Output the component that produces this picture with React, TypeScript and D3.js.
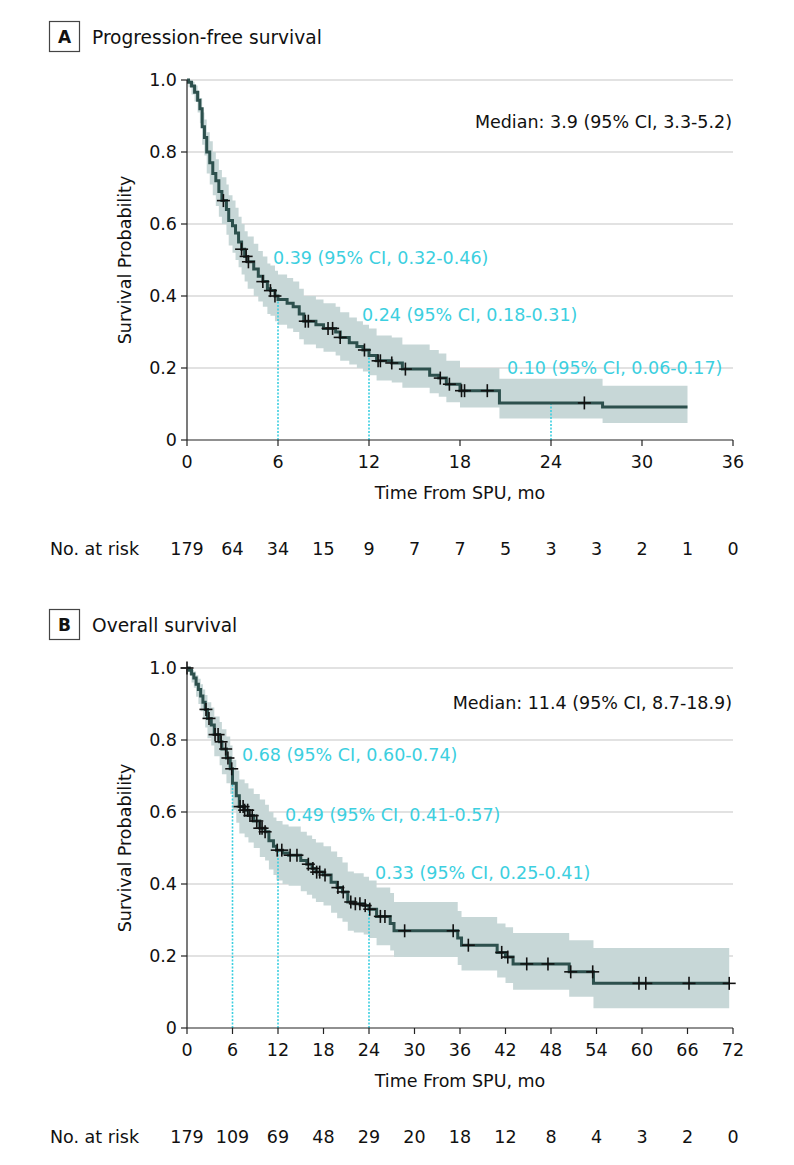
import React from "react";
import * as d3 from "d3";

// ---------- DATA ----------
// Progression-free survival: [time (mo), survival, lower 95% CI, upper 95% CI]
const PFS_STEPS: [number, number, number, number][] = [
  [0, 1.0, 1.0, 1.0],
  [0.1, 0.994, 0.98, 1.0],
  [0.3, 0.983, 0.96, 0.995],
  [0.5, 0.966, 0.94, 0.985],
  [0.7, 0.944, 0.91, 0.97],
  [0.85, 0.92, 0.88, 0.95],
  [1.0, 0.87, 0.82, 0.91],
  [1.15, 0.84, 0.79, 0.89],
  [1.3, 0.8, 0.74, 0.855],
  [1.5, 0.77, 0.71, 0.83],
  [1.7, 0.74, 0.68, 0.8],
  [1.9, 0.72, 0.65, 0.78],
  [2.1, 0.69, 0.62, 0.75],
  [2.3, 0.665, 0.6, 0.73],
  [2.6, 0.64, 0.57, 0.71],
  [2.75, 0.61, 0.54, 0.68],
  [3.0, 0.595, 0.52, 0.665],
  [3.2, 0.575, 0.5, 0.645],
  [3.4, 0.55, 0.48, 0.62],
  [3.6, 0.53, 0.46, 0.6],
  [3.8, 0.51, 0.44, 0.58],
  [4.0, 0.495, 0.42, 0.565],
  [4.4, 0.475, 0.4, 0.545],
  [4.7, 0.455, 0.385, 0.525],
  [5.0, 0.44, 0.37, 0.51],
  [5.3, 0.42, 0.35, 0.49],
  [5.5, 0.415, 0.345, 0.485],
  [5.8, 0.4, 0.33, 0.47],
  [6.0, 0.39, 0.32, 0.46],
  [6.6, 0.38, 0.31, 0.45],
  [7.0, 0.37, 0.3, 0.44],
  [7.4, 0.35, 0.28, 0.42],
  [7.7, 0.33, 0.265, 0.4],
  [8.5, 0.32, 0.255, 0.39],
  [9.0, 0.31, 0.245, 0.38],
  [9.8, 0.3, 0.235, 0.37],
  [10.1, 0.285, 0.22, 0.355],
  [10.7, 0.27, 0.21, 0.34],
  [11.2, 0.26, 0.2, 0.33],
  [11.6, 0.25, 0.19, 0.32],
  [12.0, 0.235, 0.18, 0.31],
  [12.5, 0.22, 0.165, 0.29],
  [13.5, 0.214, 0.16, 0.285],
  [14.2, 0.197, 0.145, 0.265],
  [16.0, 0.18, 0.13, 0.25],
  [16.6, 0.172, 0.12, 0.24],
  [17.1, 0.155, 0.105, 0.22],
  [18.0, 0.137, 0.09, 0.2],
  [20.6, 0.103, 0.06, 0.17],
  [27.4, 0.092, 0.047, 0.151],
];
const PFS_END = 33.0;
const PFS_CENSORED = [2.4, 3.6, 3.9, 4.05, 5.0, 5.5, 5.8, 7.8, 8.0, 9.3, 9.6, 10.1, 11.7, 12.6, 12.75, 13.5, 14.4, 16.7, 17.3, 18.1, 18.3, 19.8, 26.2];
const PFS_X_TICKS = [0, 6, 12, 18, 24, 30, 36];
const PFS_RISK_TIMES = [0, 3, 6, 9, 12, 15, 18, 21, 24, 27, 30, 33, 36];
const PFS_RISK = [179, 64, 34, 15, 9, 7, 7, 5, 3, 3, 2, 1, 0];
const PFS_LANDMARKS = [6, 12, 24];
const PFS_LANDMARK_TEXT = ["0.39 (95% CI, 0.32-0.46)", "0.24 (95% CI, 0.18-0.31)", "0.10 (95% CI, 0.06-0.17)"];
const PFS_MEDIAN = "Median: 3.9 (95% CI, 3.3-5.2)";

// Overall survival: [time (mo), survival, lower 95% CI, upper 95% CI]
const OS_STEPS: [number, number, number, number][] = [
  [0, 1.0, 1.0, 1.0],
  [0.3, 0.994, 0.98, 1.0],
  [0.6, 0.983, 0.96, 0.995],
  [0.9, 0.972, 0.945, 0.99],
  [1.2, 0.955, 0.92, 0.98],
  [1.5, 0.94, 0.9, 0.97],
  [1.8, 0.922, 0.88, 0.955],
  [2.1, 0.905, 0.86, 0.94],
  [2.4, 0.885, 0.835, 0.925],
  [2.7, 0.86, 0.805, 0.905],
  [3.2, 0.842, 0.785, 0.89],
  [3.6, 0.815, 0.755, 0.865],
  [4.3, 0.795, 0.73, 0.85],
  [4.6, 0.775, 0.705, 0.83],
  [5.2, 0.75, 0.68, 0.81],
  [5.7, 0.72, 0.65, 0.785],
  [6.0, 0.68, 0.605, 0.745],
  [6.5, 0.645, 0.57, 0.715],
  [6.9, 0.615, 0.54, 0.69],
  [7.6, 0.605, 0.53, 0.68],
  [8.1, 0.59, 0.515, 0.665],
  [8.8, 0.575, 0.5, 0.65],
  [9.6, 0.555, 0.475, 0.635],
  [10.3, 0.545, 0.465, 0.62],
  [10.8, 0.52, 0.44, 0.6],
  [11.4, 0.505, 0.425, 0.585],
  [11.8, 0.494, 0.41, 0.575],
  [12.6, 0.486, 0.4, 0.565],
  [13.4, 0.48, 0.395, 0.56],
  [15.0, 0.465, 0.38, 0.545],
  [15.8, 0.455, 0.37, 0.535],
  [16.5, 0.443, 0.36, 0.525],
  [17.0, 0.433, 0.35, 0.515],
  [18.0, 0.425, 0.34, 0.505],
  [19.0, 0.405, 0.32, 0.49],
  [19.8, 0.39, 0.305, 0.475],
  [20.5, 0.378, 0.295, 0.46],
  [21.2, 0.35, 0.27, 0.435],
  [22.0, 0.345, 0.265, 0.43],
  [23.3, 0.34, 0.26, 0.42],
  [24.0, 0.33, 0.25, 0.41],
  [25.0, 0.31, 0.23, 0.39],
  [26.8, 0.29, 0.215, 0.375],
  [27.3, 0.27, 0.197, 0.35],
  [35.7, 0.25, 0.175, 0.325],
  [36.2, 0.23, 0.16, 0.308],
  [40.9, 0.21, 0.14, 0.29],
  [42.0, 0.197, 0.125, 0.28],
  [43.0, 0.178, 0.106, 0.264],
  [50.4, 0.156, 0.087, 0.244],
  [53.6, 0.124, 0.055, 0.222],
];
const OS_END = 71.5;
const OS_CENSORED = [0, 2.5, 2.9, 3.7, 4.1, 4.5, 5.1, 5.4, 5.9, 7.0, 7.4, 7.6, 8.0, 8.3, 8.6, 9.2, 9.6, 9.9, 10.3, 11.9, 12.5, 13.6, 14.5, 16.0, 16.6, 17.1, 17.5, 18.2, 19.9, 20.6, 21.6, 22.2, 22.8, 23.5, 24.1, 25.5, 26.1, 28.7, 35.1, 37.1, 41.5, 42.3, 44.8, 47.6, 50.6, 53.5, 59.6, 60.5, 66.2, 71.5];
const OS_X_TICKS = [0, 6, 12, 18, 24, 30, 36, 42, 48, 54, 60, 66, 72];
const OS_RISK_TIMES = [0, 6, 12, 18, 24, 30, 36, 42, 48, 54, 60, 66, 72];
const OS_RISK = [179, 109, 69, 48, 29, 20, 18, 12, 8, 4, 3, 2, 0];
const OS_LANDMARKS = [6, 12, 24];
const OS_LANDMARK_TEXT = ["0.68 (95% CI, 0.60-0.74)", "0.49 (95% CI, 0.41-0.57)", "0.33 (95% CI, 0.25-0.41)"];
const OS_MEDIAN = "Median: 11.4 (95% CI, 8.7-18.9)";

const Y_TICKS = [0, 0.2, 0.4, 0.6, 0.8, 1.0];
const Y_TICK_LABELS = ["0", "0.2", "0.4", "0.6", "0.8", "1.0"];

// ---------- STYLE ----------
const FONT = "DejaVu Sans, Verdana, sans-serif";
const CURVE = "#2d504d";
const BAND = "#c7d7d7";
const CYAN = "#3ccfe0";
const GRID = "#d8d8d8";
const AXIS = "#222";

type PanelProps = {
  top: number;
  letter: string;
  title: string;
  steps: [number, number, number, number][];
  end: number;
  censored: number[];
  xMax: number;
  xTicks: number[];
  riskTimes: number[];
  risk: number[];
  landmarks: number[];
  landmarkText: string[];
  labelPos: [number, number][];
  median: string;
  medianY: number;
};

function valueAt(steps: [number, number, number, number][], t: number) {
  let v = steps[0][1];
  for (const r of steps) if (r[0] <= t + 1e-9) v = r[1];
  return v;
}

function Panel(p: PanelProps) {
  const x = d3.scaleLinear().domain([0, p.xMax]).range([187, 733]);
  const y = d3.scaleLinear().domain([0, 1]).range([p.top + 360, p.top]);
  const ext = [...p.steps, [p.end, ...p.steps[p.steps.length - 1].slice(1)] as [number, number, number, number]];
  const line = d3
    .line<[number, number, number, number]>()
    .x((d) => x(d[0]))
    .y((d) => y(d[1]))
    .curve(d3.curveStepAfter);
  const area = d3
    .area<[number, number, number, number]>()
    .x((d) => x(d[0]))
    .y0((d) => y(d[2]))
    .y1((d) => y(d[3]))
    .curve(d3.curveStepAfter);
  const y0 = y(0);
  const fs = 17.5;
  return (
    <g fontFamily={FONT}>
      {/* header */}
      <rect x={49.5} y={p.top - 58.5} width={30} height={30} fill="none" stroke="#444" strokeWidth={1.2} />
      <text x={64.5} y={p.top - 43.5} textAnchor="middle" dominantBaseline="central" fontSize={17} fontWeight="bold" fill="#111">
        {p.letter}
      </text>
      <text x={92} y={p.top - 43} dominantBaseline="central" fontSize={18.6} fill="#111">
        {p.title}
      </text>

      {/* grid */}
      {Y_TICKS.filter((v) => v > 0).map((v) => (
        <line key={"g" + v} x1={x(0)} x2={x(p.xMax)} y1={y(v)} y2={y(v)} stroke={GRID} strokeWidth={1.5} />
      ))}

      {/* CI band */}
      <path d={area(ext) || ""} fill={BAND} />

      {/* landmark dotted lines */}
      {p.landmarks.map((t) => (
        <line key={"l" + t} x1={x(t)} x2={x(t)} y1={y0} y2={y(valueAt(p.steps, t))} stroke={CYAN} strokeWidth={1.6} strokeDasharray="2,1.5" />
      ))}

      {/* curve */}
      <path d={line(ext) || ""} fill="none" stroke={CURVE} strokeWidth={3} />

      {/* censor marks */}
      {p.censored.map((t, i) => {
        const cx = x(t);
        const cy = y(valueAt(p.steps, t));
        return (
          <g key={"c" + i} stroke="#111" strokeWidth={1.6}>
            <line x1={cx - 6.5} x2={cx + 6.5} y1={cy} y2={cy} />
            <line x1={cx} x2={cx} y1={cy - 6.5} y2={cy + 6.5} />
          </g>
        );
      })}

      {/* axes */}
      <line x1={x(0)} x2={x(0)} y1={y(0)} y2={y(1)} stroke={AXIS} strokeWidth={1.2} />
      <line x1={x(0)} x2={x(p.xMax)} y1={y0} y2={y0} stroke={AXIS} strokeWidth={1.2} />
      {Y_TICKS.map((v, i) => (
        <g key={"yt" + v}>
          <line x1={x(0) - 6} x2={x(0)} y1={y(v)} y2={y(v)} stroke={AXIS} strokeWidth={1.2} />
          <text x={177} y={y(v)} textAnchor="end" dominantBaseline="central" fontSize={fs} fill="#111">
            {Y_TICK_LABELS[i]}
          </text>
        </g>
      ))}
      {p.xTicks.map((v) => (
        <g key={"xt" + v}>
          <line x1={x(v)} x2={x(v)} y1={y0} y2={y0 + 6} stroke={AXIS} strokeWidth={1.2} />
          <text x={x(v)} y={y0 + 22} textAnchor="middle" dominantBaseline="central" fontSize={fs} fill="#111">
            {v}
          </text>
        </g>
      ))}
      <text x={460} y={y0 + 53} textAnchor="middle" dominantBaseline="central" fontSize={fs} fill="#111">
        Time From SPU, mo
      </text>
      <text
        transform={`translate(125,${p.top + 180}) rotate(-90)`}
        textAnchor="middle"
        dominantBaseline="central"
        fontSize={fs}
        fill="#111"
      >
        Survival Probability
      </text>

      {/* annotations */}
      <text x={732} y={p.top + p.medianY} textAnchor="end" dominantBaseline="central" fontSize={fs} fill="#111">
        {p.median}
      </text>
      {p.landmarkText.map((s, i) => (
        <text key={"lt" + i} x={p.labelPos[i][0]} y={p.top + p.labelPos[i][1]} dominantBaseline="central" fontSize={fs} fill={CYAN}>
          {s}
        </text>
      ))}

      {/* number at risk */}
      <text x={50} y={y0 + 109} dominantBaseline="central" fontSize={fs} fill="#111">
        No. at risk
      </text>
      {p.riskTimes.map((t, i) => (
        <text key={"r" + i} x={x(t)} y={y0 + 109} textAnchor="middle" dominantBaseline="central" fontSize={fs} fill="#111">
          {p.risk[i]}
        </text>
      ))}
    </g>
  );
}

export default function App() {
  return (
    <svg width={794} height={1165} style={{ position: "absolute", left: 0, top: 0, background: "#fff" }}>
      <rect width={794} height={1165} fill="#fff" />
      <Panel
        top={80}
        letter="A"
        title="Progression-free survival"
        steps={PFS_STEPS}
        end={PFS_END}
        censored={PFS_CENSORED}
        xMax={36}
        xTicks={PFS_X_TICKS}
        riskTimes={PFS_RISK_TIMES}
        risk={PFS_RISK}
        landmarks={PFS_LANDMARKS}
        landmarkText={PFS_LANDMARK_TEXT}
        labelPos={[
          [273, 178],
          [362, 235],
          [507, 288],
        ]}
        median={PFS_MEDIAN}
        medianY={42}
      />
      <Panel
        top={668}
        letter="B"
        title="Overall survival"
        steps={OS_STEPS}
        end={OS_END}
        censored={OS_CENSORED}
        xMax={72}
        xTicks={OS_X_TICKS}
        riskTimes={OS_RISK_TIMES}
        risk={OS_RISK}
        landmarks={OS_LANDMARKS}
        landmarkText={OS_LANDMARK_TEXT}
        labelPos={[
          [242, 87],
          [285, 147],
          [375, 205],
        ]}
        median={OS_MEDIAN}
        medianY={35}
      />
    </svg>
  );
}
